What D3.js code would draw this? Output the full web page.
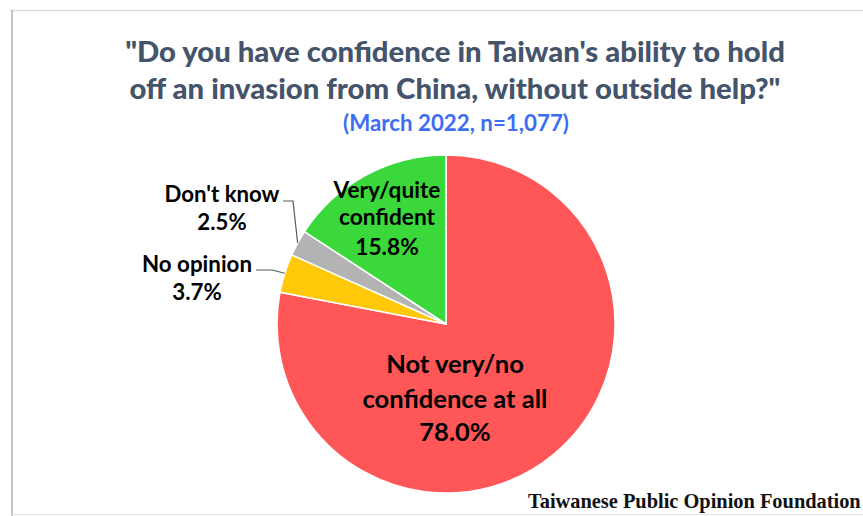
<!DOCTYPE html>
<html>
<head>
<meta charset="utf-8">
<script src="https://cdn.jsdelivr.net/npm/d3@7/dist/d3.min.js"></script>
<style>
  html, body { margin: 0; padding: 0; background: #ffffff; }
  svg { display: block; }
</style>
</head>
<body>
<svg id="chart" width="863" height="516"></svg>
<script>
// ---- Data ----
const categories = ["Not very/no confidence at all", "No opinion", "Don't know", "Very/quite confident"];
const values = [78.0, 3.7, 2.5, 15.8];
const labelLines = [
  ["Not very/no", "confidence at all", "78.0%"],
  ["No opinion", "3.7%"],
  ["Don't know", "2.5%"],
  ["Very/quite", "confident", "15.8%"]
];
const colors = ["#FF5757", "#FFC90A", "#B3B3B3", "#3BD83B"];
const titleLines = ["\"Do you have confidence in Taiwan's ability to hold", "off an invasion from China, without outside help?\""];
const subtitle = "(March 2022, n=1,077)";
const source = "Taiwanese Public Opinion Foundation";

// ---- Setup ----
const W = 863, H = 516;
const svg = d3.select("#chart");
const sansFont = "Lato, 'Open Sans', sans-serif";

// frame
svg.append("line").attr("x1", 10).attr("x2", W).attr("y1", 10.5).attr("y2", 10.5)
  .attr("stroke", "#DADDE5").attr("stroke-width", 1.5);
svg.append("line").attr("x1", 12).attr("x2", 12).attr("y1", 10).attr("y2", H)
  .attr("stroke", "#BFC3CC").attr("stroke-width", 2);
svg.append("line").attr("x1", 12).attr("x2", W).attr("y1", 514.5).attr("y2", 514.5)
  .attr("stroke", "#E4E4E4").attr("stroke-width", 1);

// helper to fit font size so that a text element spans a target width
function fit(sel, target) {
  sel.attr("font-size", 100);
  const w = sel.node().getComputedTextLength();
  const fs = 100 * target / w;
  sel.attr("font-size", fs);
  return fs;
}

// title
const t1 = svg.append("text").attr("x", 455).attr("y", 62).attr("text-anchor", "middle")
  .attr("font-family", sansFont).attr("font-weight", 900).attr("fill", "#44546A").text(titleLines[0]);
const tfs = fit(t1, 660);
svg.append("text").attr("x", 455).attr("y", 99).attr("text-anchor", "middle")
  .attr("font-family", sansFont).attr("font-weight", 900).attr("fill", "#44546A")
  .attr("font-size", tfs).text(titleLines[1]);
const st = svg.append("text").attr("x", 456).attr("y", 131).attr("text-anchor", "middle")
  .attr("font-family", sansFont).attr("font-weight", 700).attr("fill", "#3D6DF2").text(subtitle);
fit(st, 226);

// ---- Pie ----
const cx = 446, cy = 324, R = 169;
const pie = d3.pie().sort(null).value(d => d)(values);
const arc = d3.arc().innerRadius(0).outerRadius(R);
const g = svg.append("g").attr("transform", `translate(${cx},${cy})`);
g.selectAll("path").data(pie).join("path")
  .attr("d", arc)
  .attr("fill", (d, i) => colors[i])
  .attr("stroke", "#ffffff").attr("stroke-width", 1.5).attr("stroke-linejoin", "round");

// label layouts (position of label block, in px) — styles, not data
const labelLayout = [
  { x: 455, y: [373, 408, 441], ref: 1, w: 185 },
  { x: 197, y: [272, 300], ref: 0, w: 110 },
  { x: 222, y: [202, 230], ref: 0, w: 115 },
  { x: 387, y: [198, 225, 255], ref: 0, w: 107 }
];
labelLines.forEach((lines, i) => {
  const L = labelLayout[i];
  const texts = lines.map((s, j) => svg.append("text")
    .attr("x", L.x).attr("y", L.y[j]).attr("text-anchor", "middle")
    .attr("font-family", sansFont).attr("font-weight", 700).attr("fill", "#000000").text(s));
  const fs = fit(texts[L.ref], L.w);
  texts.forEach(t => t.attr("font-size", fs));
});

// leader lines for small slices
function edgePoint(d) {
  const a = (d.startAngle + d.endAngle) / 2;
  return [cx + R * Math.sin(a), cy - R * Math.cos(a)];
}
const leader = d3.line();
const pDK = edgePoint(pie[2]);
svg.append("path").attr("d", leader([[283, 201], [293, 201], pDK]))
  .attr("fill", "none").attr("stroke", "#595959").attr("stroke-width", 1.2);
const pNO = edgePoint(pie[1]);
svg.append("path").attr("d", leader([[256, 270], [272, 270], pNO]))
  .attr("fill", "none").attr("stroke", "#595959").attr("stroke-width", 1.2);

// source
const src = svg.append("text").attr("x", 528).attr("y", 508)
  .attr("font-family", "'Liberation Serif', 'DejaVu Serif', serif").attr("font-weight", 700)
  .attr("fill", "#111111").text(source);
fit(src, 333);
</script>
</body>
</html>
